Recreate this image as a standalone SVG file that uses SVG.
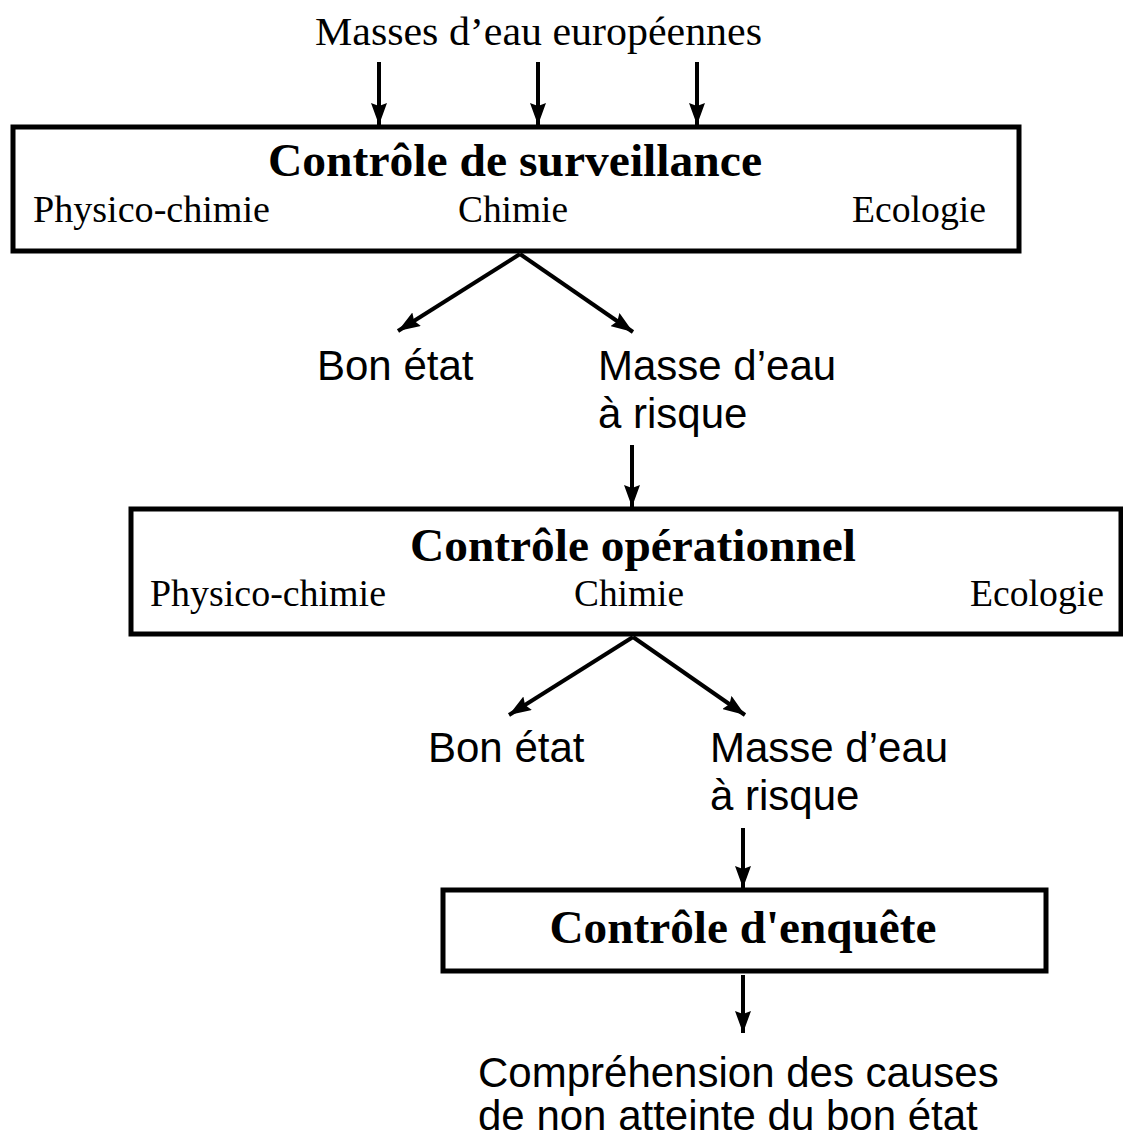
<svg xmlns="http://www.w3.org/2000/svg" width="1123" height="1137" viewBox="0 0 1123 1137">
<style>
.box{fill:#fff;stroke:#000;stroke-width:5}
.title{font-family:"Liberation Serif","Times New Roman",serif;font-weight:bold;font-size:47px;text-anchor:middle;fill:#000}
.sub{font-family:"Liberation Serif","Times New Roman",serif;font-size:38px;fill:#000}
.lbl{font-family:"Liberation Sans",Arial,sans-serif;font-size:42px;fill:#000}
.top{font-family:"Liberation Serif","Times New Roman",serif;font-size:41px;fill:#000}
.conn line{stroke:#000;stroke-width:4;marker-end:url(#ah)}
</style>
<defs>
<marker id="ah" markerUnits="userSpaceOnUse" markerWidth="22" markerHeight="16" viewBox="0 0 22 16" refX="22" refY="8" orient="auto">
<path d="M0,0 L22,8 L0,16 L3,8 Z" fill="#000"/>
</marker>
</defs>
<rect width="1123" height="1137" fill="#fff"/>
<g id="source">
<text class="top" x="315" y="45" textLength="447" lengthAdjust="spacingAndGlyphs">Masses d’eau européennes</text>
</g>
<g id="surveillance">
<rect class="box" x="13" y="127" width="1006" height="124"/>
<text class="title" x="515" y="176" textLength="494" lengthAdjust="spacingAndGlyphs">Contrôle de surveillance</text>
<text class="sub" x="33" y="222" textLength="237" lengthAdjust="spacingAndGlyphs">Physico-chimie</text>
<text class="sub" x="458" y="222" textLength="110" lengthAdjust="spacingAndGlyphs">Chimie</text>
<text class="sub" x="852" y="222" textLength="134" lengthAdjust="spacingAndGlyphs">Ecologie</text>
</g>
<g id="bon1"><text class="lbl" x="317" y="380">Bon état</text></g>
<g id="risque1"><text class="lbl" x="598" y="380">Masse d’eau</text><text class="lbl" x="598" y="428">à risque</text></g>
<g id="operationnel">
<rect class="box" x="131" y="509" width="990" height="125"/>
<text class="title" x="633" y="561" textLength="446" lengthAdjust="spacingAndGlyphs">Contrôle opérationnel</text>
<text class="sub" x="150" y="606" textLength="236" lengthAdjust="spacingAndGlyphs">Physico-chimie</text>
<text class="sub" x="574" y="606" textLength="110" lengthAdjust="spacingAndGlyphs">Chimie</text>
<text class="sub" x="970" y="606" textLength="134" lengthAdjust="spacingAndGlyphs">Ecologie</text>
</g>
<g id="bon2"><text class="lbl" x="428" y="762">Bon état</text></g>
<g id="risque2"><text class="lbl" x="710" y="762">Masse d’eau</text><text class="lbl" x="710" y="810">à risque</text></g>
<g id="enquete">
<rect class="box" x="443" y="890" width="603" height="81"/>
<text class="title" x="743" y="943" textLength="387" lengthAdjust="spacingAndGlyphs">Contrôle d'enquête</text>
</g>
<g id="resultat">
<text class="lbl" x="478" y="1087">Compréhension des causes</text>
<text class="lbl" x="478" y="1130">de non atteinte du bon état</text>
</g>
<g id="connectors" class="conn">
<line x1="379" y1="62" x2="379" y2="125"/>
<line x1="538" y1="62" x2="538" y2="125"/>
<line x1="697" y1="62" x2="697" y2="125"/>
<line x1="520" y1="254" x2="398" y2="331"/>
<line x1="520" y1="254" x2="633" y2="332"/>
<line x1="632" y1="445" x2="632" y2="507"/>
<line x1="633" y1="637" x2="509" y2="715"/>
<line x1="633" y1="637" x2="745" y2="715"/>
<line x1="743" y1="828" x2="743" y2="888"/>
<line x1="743" y1="975" x2="743" y2="1033"/>
</g>
</svg>
